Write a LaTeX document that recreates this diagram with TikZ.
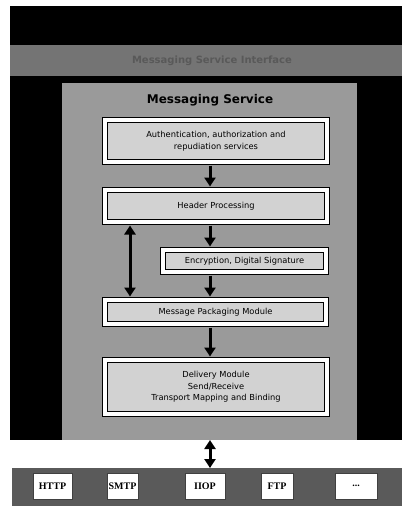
\documentclass[tikz,border=0pt]{standalone}
\usepackage{fontspec}
\setmainfont{DejaVu Sans}
\newfontfamily\protofont{Liberation Serif}
\usetikzlibrary{arrows.meta}
\definecolor{panelgray}{HTML}{9A9A9A}
\definecolor{bandgray}{HTML}{747474}
\definecolor{wiregray}{HTML}{5A5A5A}
\definecolor{modfill}{HTML}{D2D2D2}
\begin{document}
\begin{tikzpicture}[x=1pt,y=-1pt,
  module/.style={draw=black, line width=1.4pt, double=white, double distance=3.6pt,
    fill=modfill, outer sep=3.5pt, inner sep=0pt, align=center,
    font=\fontsize{8.3}{11.5}\selectfont, text=black},
  flow/.style={line width=3pt, -{Triangle[width=11pt,length=9pt]}},
  twoway/.style={line width=3pt,
    {Triangle[width=11pt,length=9pt]}-{Triangle[width=11pt,length=9pt]}},
  proto/.style={draw=black!75, line width=1pt, fill=white, inner sep=0pt,
    minimum height=26pt, font=\protofont\bfseries\fontsize{10}{12}\selectfont},
  area/.style={inner sep=0pt, outer sep=0pt}
]
\useasboundingbox (0,0) rectangle (402,506);
\fill[white] (0,0) rectangle (402,506);

% application layer (dark) and the interface band
\fill[black] (10,6) rectangle (402,440);
\node[area, fill=bandgray, minimum width=392pt, minimum height=31pt] (iface) at (206,60.5) {};
\node[font=\bfseries\fontsize{10}{12}\selectfont, text=black!65] (ifacelabel) at (212,61) {Messaging Service Interface};

% message service handler panel
\node[area, fill=panelgray, minimum width=295pt, minimum height=357pt] (handler) at (209.5,261.5) {};
\node[font=\bfseries\fontsize{12}{14}\selectfont] (title) at (210,100) {Messaging Service};

% modules
\node[module, minimum width=222pt, minimum height=42pt] (auth) at (216,141)
  {Authentication, authorization and\\repudiation services};
\node[module, minimum width=222pt, minimum height=32pt] (header) at (216,206)
  {Header Processing};
\node[module, minimum width=163pt, minimum height=22pt] (crypt) at (244.5,261)
  {Encryption, Digital Signature};
\node[module, minimum width=221pt, minimum height=24pt] (pack) at (215.5,312)
  {Message Packaging Module};
\node[module, minimum width=222pt, minimum height=54pt] (deliv) at (216,387)
  {Delivery Module\\Send/Receive\\Transport Mapping and Binding};

% flow between modules
\coordinate (ax) at (210,0);
\coordinate (bx) at (130,0);
\draw[flow] (auth.south -| ax) -- (header.north -| ax);
\draw[flow] (header.south -| ax) -- (crypt.north -| ax);
\draw[flow] (crypt.south -| ax) -- (pack.north -| ax);
\draw[flow] (pack.south -| ax) -- (deliv.north -| ax);
\draw[twoway] (header.south -| bx) -- (pack.north -| bx);

% transport protocols
\node[area, fill=wiregray, minimum width=390pt, minimum height=38pt] (transport) at (207,487) {};
\draw[twoway] (handler.south -| ax) -- (transport.north -| ax);
\node[proto, minimum width=39pt] (http) at (52.5,486) {HTTP};
\node[proto, minimum width=31pt] (smtp) at (122.5,486) {SMTP};
\node[proto, minimum width=40pt] (iiop) at (205,486) {IIOP};
\node[proto, minimum width=32pt] (ftp) at (277,486) {FTP};
\node[proto, minimum width=42pt] (more) at (356,486) {...};
\end{tikzpicture}
\end{document}
